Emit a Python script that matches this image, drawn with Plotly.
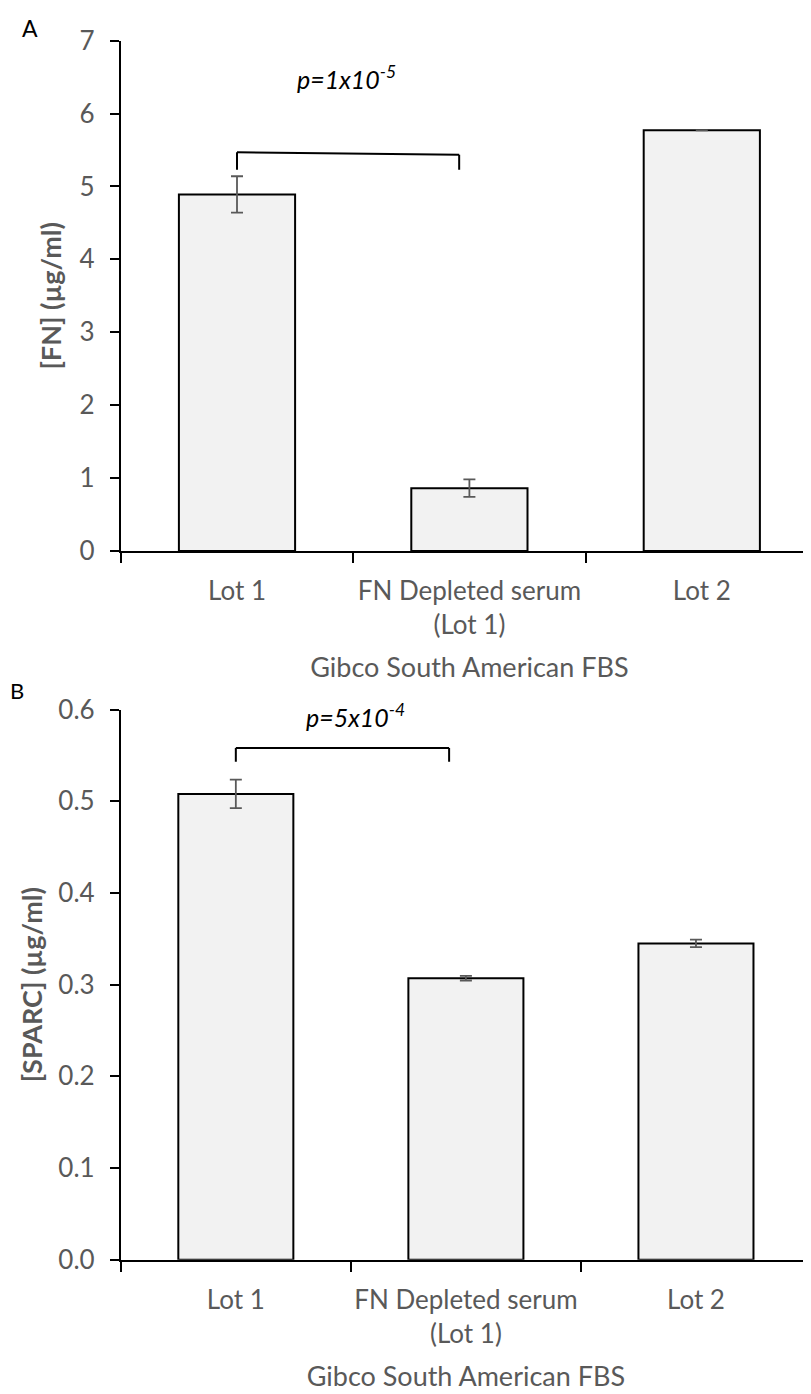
import plotly.graph_objects as go

categories = ["Lot 1", "FN Depleted serum<br>(Lot 1)", "Lot 2"]
fn_values = [4.89, 0.86, 5.77]
fn_errors = [0.25, 0.12, None]
sparc_values = [0.508, 0.307, 0.345]
sparc_errors = [0.0155, 0.0025, 0.004]
x_title = "Gibco South American FBS"
fn_title = "<b>[FN] (µg/ml)</b>"
sparc_title = "<b>[SPARC] (µg/ml)</b>"
fn_ticks = [0, 1, 2, 3, 4, 5, 6, 7]
sparc_ticks = [0.0, 0.1, 0.2, 0.3, 0.4, 0.5, 0.6]
# significance brackets: (x left, x right, y top left, y top right, y bottom)
fn_bracket = (0, 0.956, 5.47, 5.435, 5.23)
sparc_bracket = (0, 0.927, 0.558, 0.558, 0.543)
fn_p = ("<i>p=1x10<sup>-5</sup></i>", 0.47, 6.5)
sparc_p = ("<i>p=5x10<sup>-4</sup></i>", 0.52, 0.593)

FONT = "Lato"
GRAY = "#595959"
W, H = 811, 1394

fig = go.Figure()
fig.add_trace(go.Bar(x=categories, y=fn_values, width=0.5,
                     marker=dict(color="#f2f2f2", line=dict(color="black", width=2)),
                     error_y=dict(type="data", array=fn_errors, color=GRAY, thickness=1.8, width=6),
                     xaxis="x", yaxis="y", showlegend=False))
fig.add_trace(go.Bar(x=categories, y=sparc_values, width=0.5,
                     marker=dict(color="#f2f2f2", line=dict(color="black", width=2)),
                     error_y=dict(type="data", array=sparc_errors, color=GRAY, thickness=1.8, width=6),
                     xaxis="x2", yaxis="y2", showlegend=False))

xcommon = dict(type="category", range=[-0.5, 2.5], tickson="boundaries", ticks="outside",
               ticklen=10, tickwidth=2, tickcolor="black", showline=True, linecolor="black",
               linewidth=2, showgrid=False, zeroline=False, ticklabelstandoff=16,
               tickangle=0, automargin=False,
               tickfont=dict(family=FONT, size=26, color=GRAY),
               title=dict(text=x_title, font=dict(family=FONT, size=27, color=GRAY), standoff=19))
ycommon = dict(ticks="outside", ticklen=9, tickwidth=2, tickcolor="black", showline=True,
               linecolor="black", linewidth=2, showgrid=False, zeroline=False,
               automargin=False,
               tickfont=dict(family=FONT, size=26, color=GRAY), ticklabelstandoff=10)

fig.update_layout(
    width=W, height=H, margin=dict(l=0, r=0, t=0, b=0),
    paper_bgcolor="white", plot_bgcolor="white",
    font=dict(family=FONT, color=GRAY),
    xaxis=dict(domain=[112.8 / W, 810 / W], anchor="y", **xcommon),
    xaxis2=dict(domain=[112.8 / W, 803 / W], anchor="y2", **xcommon),
    yaxis=dict(domain=[1 - 542.9 / H, 1 - 32.7 / H], anchor="x", range=[0, 7],
               tickvals=fn_ticks, ticktext=[str(t) for t in fn_ticks],
               title=dict(text=fn_title, font=dict(family=FONT, size=27, color=GRAY), standoff=10),
               **ycommon),
    yaxis2=dict(domain=[1 - 1251.8 / H, 1 - 701.5 / H], anchor="x2", range=[0, 0.6],
                tickvals=sparc_ticks, ticktext=[f"{t:.1f}" for t in sparc_ticks],
                title=dict(text=sparc_title, font=dict(family=FONT, size=27, color=GRAY), standoff=8),
                **ycommon),
    bargap=0.5,
)

for (xl, xr, yl, yr, yb), xa, ya in [(fn_bracket, "x", "y"), (sparc_bracket, "x2", "y2")]:
    line = dict(color="black", width=2)
    fig.add_shape(type="line", xref=xa, yref=ya, x0=xl, x1=xl, y0=yb, y1=yl, line=line)
    fig.add_shape(type="line", xref=xa, yref=ya, x0=xl, x1=xr, y0=yl, y1=yr, line=line)
    fig.add_shape(type="line", xref=xa, yref=ya, x0=xr, x1=xr, y0=yr, y1=yb, line=line)

for (txt, px, py), xa, ya in [(fn_p, "x", "y"), (sparc_p, "x2", "y2")]:
    fig.add_annotation(text=txt, x=px, y=py, xref=xa, yref=ya, showarrow=False,
                       font=dict(family=FONT, size=25, color="black"))

fig.add_annotation(text="A", x=12 / W, y=1 - 20 / H, xref="paper", yref="paper",
                   xanchor="left", yanchor="middle",
                   showarrow=False, font=dict(family=FONT, size=23, color="black"))
fig.add_annotation(text="B", x=0, y=1 - 682 / H, xref="paper", yref="paper",
                   xanchor="left", yanchor="middle",
                   showarrow=False, font=dict(family=FONT, size=22, color="black"))

fig.write_html("out.html")
